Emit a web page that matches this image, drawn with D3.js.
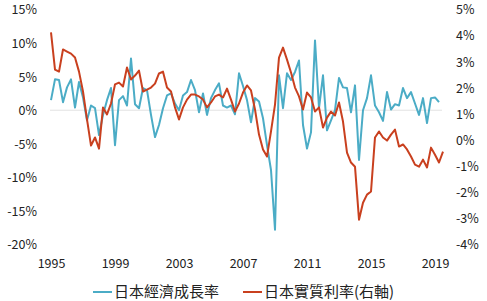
<!DOCTYPE html>
<html>
<head>
<meta charset="utf-8">
<script src="https://cdn.jsdelivr.net/npm/d3@7"></script>
<style>
  body { margin: 0; background: #fff; }
  svg text { font-family: "Noto Sans CJK TC", "Open Sans", sans-serif; fill: #222; }
</style>
</head>
<body>
<div id="chart"></div>
<script>
// quarterly data, starting 1995 Q1
const startYear = 1995;
const gdpGrowth = [
    1.5, 4.6, 4.5, 1.2, 3.4, 4.6, 0.4, 4.2, 1.9, -1.5,
    0.7, 0.3, -3.7, -0.7, 1.5, 3.3, -5.2, 1.5, 2.1, 0.7,
    7.7, 0.9, 0.3, 3.3, 3.0, -0.7, -4.0, -2.2, 0.3, 2.2,
    2.5, 1.0, 0.0, 2.2, 2.7, 4.5, 3.0, -0.3, 2.5, -0.7,
    1.8, 3.0, 4.0, 0.7, 0.4, 0.7, -0.6, 5.5, 3.6, 1.5,
    -1.8, 1.8, 1.3, -1.2, -5.2, -8.9, -17.8, 5.2, 0.3, 5.5,
    4.5, 5.7, 7.4, -2.2, -5.7, -3.3, 10.4, 0.3, 5.2, -3.0,
    -1.5, 0.0, 4.8, 3.4, 3.3, -0.3, 3.7, -7.4, 0.0, 1.8,
    5.2, 0.7, -0.3, -1.6, 2.7, 0.1, 0.9, 0.7, 3.3, 1.8,
    2.7, 1.0, -0.7, 1.8, -1.9, 1.8, 1.9, 1.2
];
const realRate = [
    4.12, 2.70, 2.62, 3.47, 3.39, 3.31, 3.16, 2.62, 1.86, 0.79,
    -0.21, 0.10, -0.33, 1.25, 0.98, 1.40, 2.13, 2.20, 2.05, 2.78,
    2.32, 2.47, 2.66, 1.86, 1.93, 2.01, 2.16, 2.55, 2.62, 2.01,
    1.86, 1.25, 0.79, 1.25, 1.55, 1.74, 1.74, 1.67, 1.55, 1.25,
    1.44, 1.67, 1.74, 1.63, 1.97, 1.55, 1.09, 1.40, 1.82, 2.09,
    1.90, 1.17, 0.21, -0.36, -0.63, 0.33, 1.36, 3.16, 3.54, 3.08,
    2.59, 2.01, 1.67, 1.17, 1.82, 1.63, 1.09, 1.25, 0.48, 0.86,
    1.09, 0.94, 1.44, 0.71, -0.48, -0.86, -1.02, -3.05, -2.40, -2.09,
    -1.97, 0.10, 0.33, 0.10, -0.02, 0.21, 0.40, -0.25, -0.17, -0.36,
    -0.63, -0.94, -1.02, -0.75, -1.05, -0.29, -0.56, -0.86, -0.44
];
const leftTicks = [15, 10, 5, 0, -5, -10, -15, -20];
const rightTicks = [5, 4, 3, 2, 1, 0, -1, -2, -3, -4];
const yearTicks = [1995, 1999, 2003, 2007, 2011, 2015, 2019];
const seriesNames = ['日本經濟成長率', '日本實質利率(右軸)'];
const colors = ['#4bacc6', '#c9401f'];

const width = 487, height = 301;

const svg = d3.select('#chart')
    .append('svg')
    .attr('width', width)
    .attr('height', height);

const xScale = d3.scaleLinear().domain([1995, 2019]).range([51, 435]);
const yLeft = d3.scaleLinear().domain([-20, 15]).range([244.5, 9.5]);
const yRight = d3.scaleLinear().domain([-4, 5]).range([244.5, 9.5]);

// zero line
svg.append('line')
    .attr('x1', 50).attr('x2', 442)
    .attr('y1', yLeft(0)).attr('y2', yLeft(0))
    .attr('stroke', '#e2e2e2')
    .attr('stroke-width', 1);

// Left axis (labels only)
const leftAxis = d3.axisLeft(yLeft)
    .tickValues(leftTicks)
    .tickFormat(d => d + '%')
    .tickSize(0)
    .tickPadding(0);
svg.append('g')
    .attr('transform', 'translate(37,0)')
    .call(leftAxis)
    .call(g => g.select('.domain').remove())
    .selectAll('text')
    .attr('font-size', 12.5)
    .attr('dy', '0.35em');

// Right axis
const rightAxis = d3.axisRight(yRight)
    .tickValues(rightTicks)
    .tickFormat(d => d + '%')
    .tickSize(0)
    .tickPadding(0);
svg.append('g')
    .attr('transform', 'translate(456,0)')
    .call(rightAxis)
    .call(g => g.select('.domain').remove())
    .selectAll('text')
    .attr('font-size', 12.5)
    .attr('dy', '0.35em');

// X axis
const xAxis = d3.axisBottom(xScale)
    .tickValues(yearTicks)
    .tickFormat(d3.format('d'))
    .tickSize(0)
    .tickPadding(0);
svg.append('g')
    .attr('transform', 'translate(0,259)')
    .call(xAxis)
    .call(g => g.select('.domain').remove())
    .selectAll('text')
    .attr('font-size', 12.5);

// Lines
const qx = (d, i) => xScale(startYear + i / 4);
const gdpLine = d3.line().x(qx).y(d => yLeft(d));
const rateLine = d3.line().x(qx).y(d => yRight(d));

svg.append('path')
    .attr('d', gdpLine(gdpGrowth))
    .attr('fill', 'none')
    .attr('stroke', colors[0])
    .attr('stroke-width', 2)
    .attr('stroke-linejoin', 'round');

svg.append('path')
    .attr('d', rateLine(realRate))
    .attr('fill', 'none')
    .attr('stroke', colors[1])
    .attr('stroke-width', 2)
    .attr('stroke-linejoin', 'round');

// Legend
const legend = svg.append('g').classed('legend', true);
const legendX = [93, 243];
seriesNames.forEach((name, i) => {
    legend.append('line')
        .attr('x1', legendX[i]).attr('x2', legendX[i] + 19)
        .attr('y1', 292).attr('y2', 292)
        .attr('stroke', colors[i])
        .attr('stroke-width', 2);
    legend.append('text')
        .attr('x', legendX[i] + 21)
        .attr('y', 292)
        .attr('dy', '0.35em')
        .attr('font-size', 15)
        .text(name);
});
</script>
</body>
</html>
